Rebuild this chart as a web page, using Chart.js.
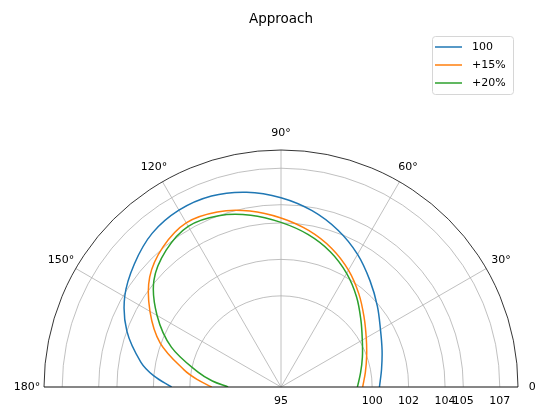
<!DOCTYPE html>
<html>
<head>
<meta charset="utf-8">
<script src="https://cdn.jsdelivr.net/npm/chart.js@4/dist/chart.umd.min.js"></script>
<style>
  body { margin: 0; background: #fff; }
  canvas { display: block; }
</style>
</head>
<body>
<canvas id="approachChart" width="536" height="407"></canvas>
<script>
// angles in degrees, radius values
const angles  = [0, 10, 20, 30, 40, 50, 60, 70, 80, 90, 100, 110, 120, 130, 140, 150, 160, 170, 175, 180];
const base100 = [100.4, 100.6, 100.9, 101.3, 101.9, 102.6, 103.4, 104.15, 104.82, 105.38, 105.85, 106.15, 106.2, 106.0, 105.5, 104.9, 104.0, 102.8, 102.0, 101.0];
const plus15  = [99.48, 99.7, 100.0, 100.4, 100.95, 101.65, 102.4, 103.1, 103.72, 104.27, 104.8, 105.22, 105.4, 105.05, 104.4, 103.3, 102.05, 100.4, 99.6, 98.8];
const plus20  = [99.19, 99.43, 99.75, 100.15, 100.72, 101.45, 102.2, 102.9, 103.5, 104.03, 104.57, 105.0, 105.18, 104.8, 104.1, 102.85, 101.4, 99.6, 98.78, 97.9];

const seriesNames  = ['100', '+15%', '+20%'];
const seriesColors = ['#1f77b4', '#ff7f0e', '#2ca02c'];
const rTicks     = [95, 100, 102, 104, 105, 107];
const thetaTicks = [0, 30, 60, 90, 120, 150, 180];
const rMin = 95, rMax = 108;
const titleText = 'Approach';

// polar -> cartesian so the scatter scales place every point
function toXY(rs) {
    return rs.map((r, i) => {
        const a = angles[i] * Math.PI / 180;
        return { x: (r - rMin) * Math.cos(a), y: (r - rMin) * Math.sin(a) };
    });
}

const FONT = '"DejaVu Sans", sans-serif';

const polarAxes = {
    id: 'polarAxes',
    beforeDatasetsDraw(chart) {
        const { ctx, scales: { x, y } } = chart;
        const cx = x.getPixelForValue(0), cy = y.getPixelForValue(0);
        const unit = x.getPixelForValue(1) - cx;
        const outer = (rMax - rMin) * unit;
        ctx.save();
        ctx.strokeStyle = '#b0b0b0';
        ctx.lineWidth = 0.8;
        rTicks.forEach(t => {
            if (t <= rMin) return;
            ctx.beginPath();
            ctx.arc(cx, cy, (t - rMin) * unit, Math.PI, 2 * Math.PI);
            ctx.stroke();
        });
        thetaTicks.forEach(deg => {
            const a = deg * Math.PI / 180;
            ctx.beginPath();
            ctx.moveTo(cx, cy);
            ctx.lineTo(cx + outer * Math.cos(a), cy - outer * Math.sin(a));
            ctx.stroke();
        });
        ctx.restore();
    },
    afterDatasetsDraw(chart) {
        const { ctx, scales: { x, y } } = chart;
        const cx = x.getPixelForValue(0), cy = y.getPixelForValue(0);
        const unit = x.getPixelForValue(1) - cx;
        const outer = (rMax - rMin) * unit;
        ctx.save();
        ctx.strokeStyle = '#000';
        ctx.lineWidth = 0.8;
        ctx.beginPath();
        ctx.arc(cx, cy, outer, Math.PI, 2 * Math.PI);
        ctx.stroke();
        ctx.beginPath();
        ctx.moveTo(cx - outer, cy);
        ctx.lineTo(cx + outer, cy);
        ctx.stroke();
        ctx.restore();
    },
    afterDraw(chart) {
        const { ctx, scales: { x, y } } = chart;
        const cx = x.getPixelForValue(0), cy = y.getPixelForValue(0);
        const unit = x.getPixelForValue(1) - cx;
        const outer = (rMax - rMin) * unit;
        ctx.save();
        ctx.fillStyle = '#000';

        // title
        ctx.font = '13.5px ' + FONT;
        ctx.textAlign = 'center';
        ctx.textBaseline = 'middle';
        ctx.fillText(titleText, cx, 19);

        // theta labels
        ctx.font = '11px ' + FONT;
        thetaTicks.forEach(deg => {
            const a = deg * Math.PI / 180;
            const rr = outer + 17;
            ctx.fillText(deg + '°', cx + rr * Math.cos(a), cy - rr * Math.sin(a));
        });

        // radial labels under the baseline
        ctx.textBaseline = 'top';
        rTicks.forEach(t => {
            ctx.fillText(String(t), cx + (t - rMin) * unit, cy + 9);
        });

        // legend box
        const lx = 432.5, ly = 36.5, lw = 81, lh = 58;
        ctx.beginPath();
        ctx.roundRect(lx, ly, lw, lh, 3);
        ctx.fillStyle = 'rgba(255,255,255,0.8)';
        ctx.fill();
        ctx.strokeStyle = '#d6d6d6';
        ctx.lineWidth = 1;
        ctx.stroke();
        ctx.textAlign = 'left';
        ctx.textBaseline = 'middle';
        chart.data.datasets.forEach((ds, i) => {
            const yy = 47 + i * 18;
            ctx.strokeStyle = ds.borderColor;
            ctx.lineWidth = 1.5;
            ctx.beginPath();
            ctx.moveTo(435, yy);
            ctx.lineTo(462, yy);
            ctx.stroke();
            ctx.fillStyle = '#000';
            ctx.fillText(ds.label, 472, yy);
        });
        ctx.restore();
    }
};

const seriesData = [base100, plus15, plus20];

new Chart(document.getElementById('approachChart'), {
    type: 'scatter',
    data: {
        datasets: seriesData.map((rs, i) => ({
            label: seriesNames[i],
            data: toXY(rs),
            showLine: true,
            borderColor: seriesColors[i],
            backgroundColor: seriesColors[i],
            borderWidth: 1.5,
            pointRadius: 0,
            tension: 0.35
        }))
    },
    options: {
        responsive: false,
        animation: false,
        layout: { padding: { left: 44, right: 18, top: 150, bottom: 20 } },
        scales: {
            x: { type: 'linear', min: -(rMax - rMin), max: rMax - rMin, display: false },
            y: { type: 'linear', min: 0, max: rMax - rMin, display: false }
        },
        plugins: {
            legend: { display: false },
            title: { display: false },
            tooltip: { enabled: false }
        }
    },
    plugins: [polarAxes]
});
</script>
</body>
</html>
